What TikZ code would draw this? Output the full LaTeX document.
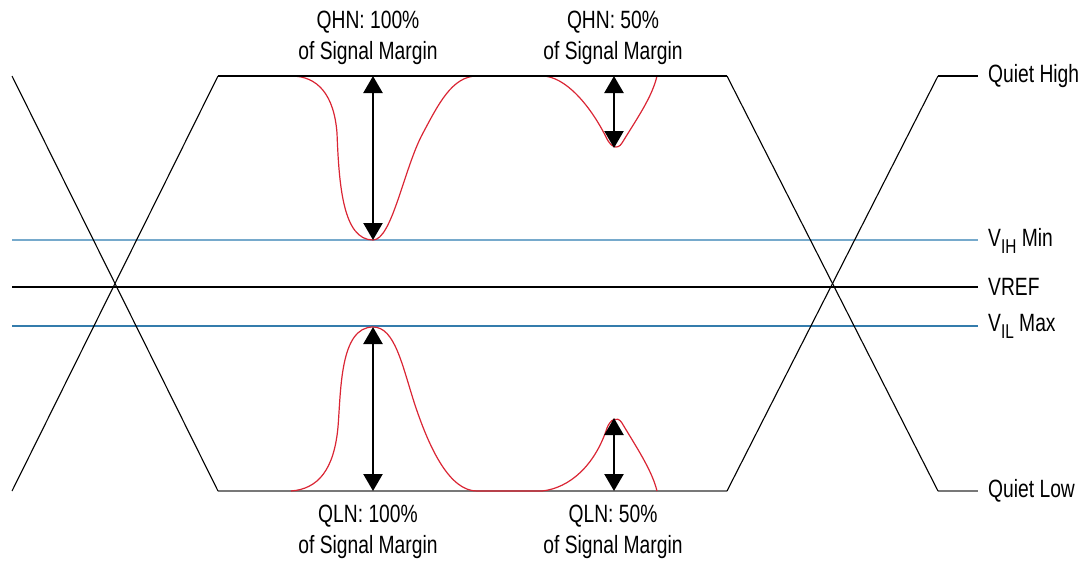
\documentclass[tikz,border=0pt]{standalone}
\usepackage{fontspec}
\newfontfamily\lblfont{Liberation Sans}[FakeStretch=0.77]
\usetikzlibrary{arrows.meta}
\definecolor{noisered}{RGB}{218,37,52}
\definecolor{vihblue}{RGB}{118,170,204}
\definecolor{vilblue}{RGB}{52,124,172}
\definecolor{lowgray}{RGB}{120,120,120}
\newcommand{\lowtxt}[1]{\raisebox{-0.28em}{\fontsize{20}{20}\selectfont #1}}
\tikzset{
  lbl/.style={font=\lblfont\fontsize{25}{31}\selectfont, inner sep=0pt, align=center},
  rlbl/.style={lbl, anchor=west},
  edge/.style={line width=1.1pt, black},
  highlvl/.style={line width=1.1pt, black},
  lowlvl/.style={line width=2pt, lowgray},
  refline/.style={line width=2.4pt, black},
  vihline/.style={line width=1.4pt, vihblue},
  villine/.style={line width=1.3pt, vilblue},
  noise/.style={line width=1.2pt, noisered},
  marrow/.style={{Triangle[width=19pt,length=17pt]}-{Triangle[width=19pt,length=17pt]}, line width=2.4pt, black},
}
\begin{document}
\begin{tikzpicture}[x=1pt,y=-1pt]
\useasboundingbox (0,0) rectangle (1090,563);

% threshold levels
\coordinate (vihL) at (12,240);  \coordinate (vihR) at (978,240);
\coordinate (refL) at (12,287);  \coordinate (refR) at (978,287);
\coordinate (vilL) at (12,326);  \coordinate (vilR) at (978,326);
\draw[vihline] (vihL) -- (vihR);
\draw[refline] (refL) -- (refR);
\draw[villine] (vilL) -- (vilR);

% eye corners
\coordinate (tl0) at (12,76);   \coordinate (bl0) at (12,491);
\coordinate (tl1) at (218,76);  \coordinate (bl1) at (218,491);
\coordinate (tr1) at (727,76);  \coordinate (br1) at (727,491);
\coordinate (tr2) at (938,76);  \coordinate (br2) at (938,491);
\coordinate (tr3) at (978,76);  \coordinate (br3) at (978,491);

% noise on the quiet-high level
\draw[noise] (291,76) .. controls (318,76) and (334,95) .. (337,133)
  .. controls (339,185) and (343,240) .. (373,240)
  .. controls (392,240) and (404,168) .. (423,133)
  .. controls (438,105) and (452,76) .. (477,76);
\draw[noise] (542,76) .. controls (565,76) and (590,105) .. (606,137)
  .. controls (610,146) and (617,151) .. (622,143)
  .. controls (638,117) and (652,97) .. (657,76);

% quiet levels
\draw[lowlvl] (bl1) -- (br1);
\draw[lowlvl] (br2) -- (br3);
\draw[highlvl] (tl1) -- (tr1);
\draw[highlvl] (tr2) -- (tr3);

% noise on the quiet-low level
\draw[noise] (291,491) .. controls (318,489) and (334,470) .. (338,427)
  .. controls (341,390) and (340,327) .. (373,327)
  .. controls (395,327) and (402,365) .. (415,405)
  .. controls (430,450) and (450,491) .. (477,491) -- (542,491)
  .. controls (570,488) and (595,465) .. (607,428)
  .. controls (610,420) and (617,415) .. (622,423)
  .. controls (635,445) and (652,470) .. (657,491);

% transitions
\draw[edge] (tl0) -- (bl1);
\draw[edge] (bl0) -- (tl1);
\draw[edge] (tr1) -- (br2);
\draw[edge] (br1) -- (tr2);

% margin arrows
\coordinate (qh1a) at (373,76);  \coordinate (qh1b) at (373,240);
\coordinate (qh2a) at (614,76);  \coordinate (qh2b) at (614,148);
\coordinate (ql1a) at (373,327); \coordinate (ql1b) at (373,491);
\coordinate (ql2a) at (614,418); \coordinate (ql2b) at (614,491);
\draw[marrow] (qh1a) -- (qh1b);
\draw[marrow] (qh2a) -- (qh2b);
\draw[marrow] (ql1a) -- (ql1b);
\draw[marrow] (ql2a) -- (ql2b);

% labels
\node[lbl] (qhn1) at (368,38) {QHN: 100\%\\of Signal Margin};
\node[lbl] (qhn2) at (613,38) {QHN: 50\%\\of Signal Margin};
\node[lbl] (qln1) at (368,532) {QLN: 100\%\\of Signal Margin};
\node[lbl] (qln2) at (613,532) {QLN: 50\%\\of Signal Margin};

\node[rlbl] (qhigh) at (988,76) {Quiet High};
\node[rlbl] (vih) at (988,241) {V\lowtxt{IH} Min};
\node[rlbl] (vref) at (988,287) {VREF};
\node[rlbl] (vil) at (988,326) {V\lowtxt{IL} Max};
\node[rlbl] (qlow) at (988,491) {Quiet Low};
\end{tikzpicture}
\end{document}
